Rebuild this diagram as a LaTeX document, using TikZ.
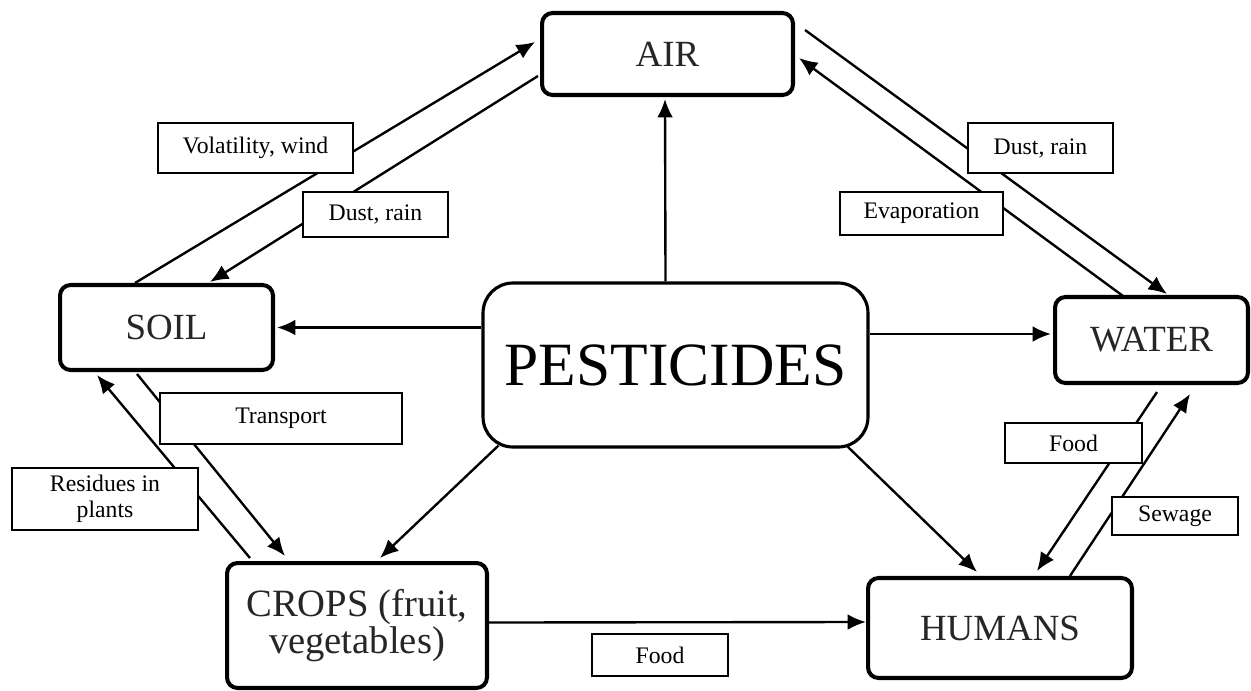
\documentclass[tikz,border=0pt]{standalone}
\usepackage{fontspec}
\setmainfont{Liberation Serif}
\usetikzlibrary{arrows.meta,calc}
\begin{document}
\begin{tikzpicture}[x=0.02cm,y=-0.02cm,
  mainbox/.style={draw=black, line width=2.3pt, rounded corners=6pt, fill=white, inner sep=0pt, align=center, text=black!85, font=\fontsize{21}{17}\selectfont},
  lbl/.style={draw=black, line width=0.9pt, fill=white, inner sep=0pt, align=center, font=\fontsize{13.5}{15}\selectfont},
  arr/.style={line width=1.35pt, -{Latex[length=10.5pt,width=9pt]}},
  ln/.style={line width=1.35pt}]
\useasboundingbox (0,0) rectangle (1251,690);

% main boxes
\node[mainbox, minimum width=5.02cm, minimum height=1.64cm] (air) at (667.5,54) {AIR};
\node[mainbox, minimum width=4.26cm, minimum height=1.70cm] (soil) at (166.5,327.5) {SOIL};
\node[mainbox, line width=1.8pt, rounded corners=17pt, minimum width=7.70cm, minimum height=3.28cm, text=black, font=\fontsize{35}{40}\selectfont] (pest) at (675.5,365) {PESTICIDES};
\node[mainbox, minimum width=3.86cm, minimum height=1.72cm] (water) at (1151.5,340) {WATER};
\node[mainbox, minimum width=5.20cm, minimum height=2.50cm, font=\fontsize{22}{17}\selectfont] (crops) at (357,625.5) {CROPS (fruit,\\vegetables)};
\node[mainbox, minimum width=5.28cm, minimum height=2.00cm] (humans) at (1000,628) {HUMANS};

% connectors from PESTICIDES
\draw[arr] ($(pest.north)+(-10,0)$) -- ($(air.south)+(-2.5,2)$);
\draw[arr] (pest.west |- soil.east) -- ($(soil.east)+(2,0)$);
\draw[arr] ($(pest.east |- water.west)+(0,-6)$) -- ($(water.west)+(-2,-6)$);
\draw[arr] ($(pest.south west)+(17,-3)$) -- ($(crops.north)+(23,-3)$);
\draw[arr] ($(pest.south east)+(-22,-2)$) -- ($(humans.north)+(-23,-4)$);
\draw[arr] ($(crops.east)+(0,-3)$) -- ($(humans.west)+(0,-6)$);

% soil / air
\draw[arr] ($(soil.north)+(-31.5,0)$) -- ($(air.west)+(-5,-12)$);
\draw[arr] ($(air.west)+(-2,22)$) -- ($(soil.north)+(43.5,-1)$);
% air / water
\draw[arr] ($(air.east)+(10,-24)$) -- ($(water.north)+(15.5,-1)$);
\draw[arr] ($(water.north)+(-28.5,1)$) -- ($(air.east)+(4,4)$);
% soil / crops
\draw[arr] ($(soil.south)+(-29.5,2)$) -- ($(crops.north)+(-72,-5)$);
\draw[arr] ($(crops.north)+(-107,-3)$) -- ($(soil.south)+(-69.5,3)$);
% water / humans
\draw[arr] ($(water.south)+(5.5,7)$) -- ($(humans.north)+(37,-5)$);
\draw[arr] ($(humans.north)+(70,0)$) -- ($(water.south)+(38.5,9)$);

% labels
\node[lbl, minimum width=3.9cm, minimum height=1.0cm] (lvol) at (255.5,148) {Volatility, wind};
\node[lbl, minimum width=2.9cm, minimum height=0.9cm] (ldustl) at (375.5,214.5) {Dust, rain};
\node[lbl, minimum width=2.9cm, minimum height=1.0cm] (ldustr) at (1040.5,148) {Dust, rain};
\node[lbl, minimum width=3.26cm, minimum height=0.86cm] (levap) at (921.5,213.5) {Evaporation};
\node[lbl, minimum width=4.84cm, minimum height=1.02cm] (ltrans) at (281,418.5) {Transport};
\node[lbl, minimum width=3.72cm, minimum height=1.24cm] (lres) at (105,499) {Residues in\\plants};
\node[lbl, minimum width=2.74cm, minimum height=0.8cm] (lfoodr) at (1073.5,443) {Food};
\node[lbl, minimum width=2.52cm, minimum height=0.76cm] (lsew) at (1175,516) {Sewage};
\node[lbl, minimum width=2.72cm, minimum height=0.84cm] (lfoodb) at (660,655) {Food};
\end{tikzpicture}
\end{document}
